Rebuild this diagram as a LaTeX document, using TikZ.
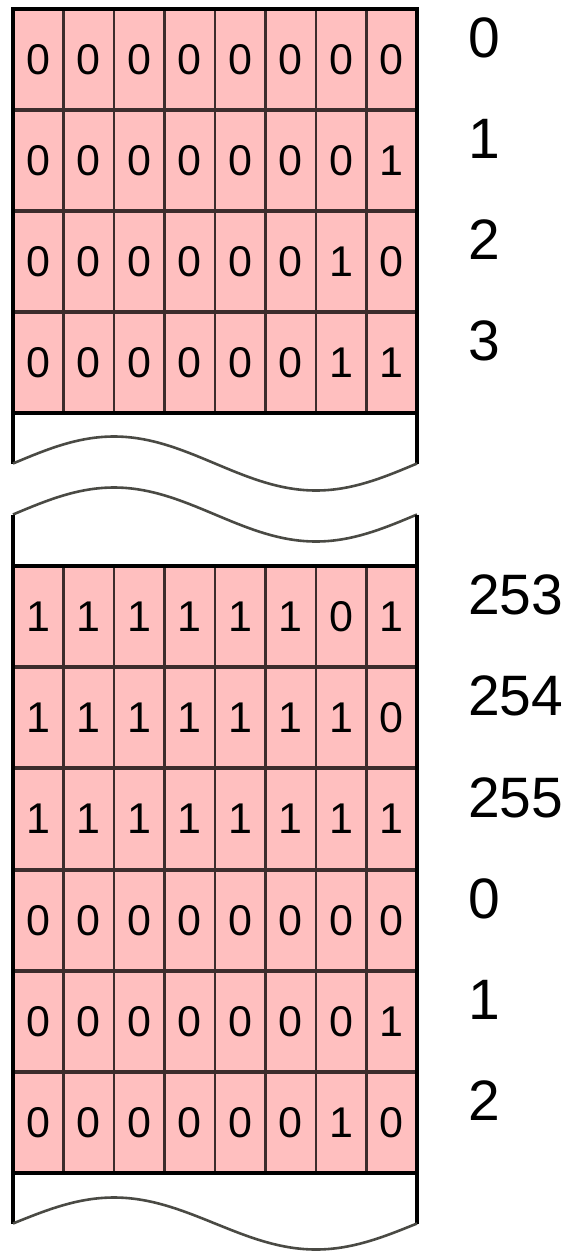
\documentclass[tikz,border=0pt]{standalone}
\usepackage{fontspec}
\setmainfont{Liberation Sans}
\definecolor{cellpink}{HTML}{FFBFBF}
\definecolor{gridline}{HTML}{3C2C2C}
\definecolor{waveline}{HTML}{4A4A44}
\begin{document}
\begin{tikzpicture}[x=1pt,y=-1pt,
  bit/.style={font=\fontsize{43}{43}\selectfont, inner sep=0pt},
  idx/.style={font=\fontsize{57}{57}\selectfont, anchor=west, inner sep=0pt},
  outer/.style={line width=3.6pt, black},
  rowline/.style={line width=4pt, gridline},
  colline/.style={line width=2.8pt, gridline},
  wave/.style={line width=2.6pt, waveline, line join=round}]
\useasboundingbox (0,0) rectangle (573,1251);
\def\L{13}\def\R{417}\def\cw{50.5}
% ---------- upper block ----------
\def\Ut{9}\def\rh{101}
\fill[cellpink] (\L,\Ut) rectangle (\R,413);
\foreach \row/\lab [count=\r from 0] in
  {{0,0,0,0,0,0,0,0}/0,{0,0,0,0,0,0,0,1}/1,{0,0,0,0,0,0,1,0}/2,{0,0,0,0,0,0,1,1}/3}{
  \foreach \b [count=\c from 0] in \row {
    \node[bit] (u-\r-\c) at ({\L+\cw*(\c+0.5)},{\Ut+\rh*(\r+0.5)}) {\b};
  }
  \node[idx] (ul-\r) at (468,{\Ut+\rh*\r+29}) {\lab};
}
\foreach \c in {1,...,7} \draw[colline] ({\L+\cw*\c},\Ut) -- ({\L+\cw*\c},413);
\foreach \r in {1,2,3} \draw[rowline] (\L,{\Ut+\rh*\r}) -- (\R,{\Ut+\rh*\r});
\draw[rowline,black] (\L,413) -- (\R,413);
\draw[outer] (\L,463.5) -- (\L,\Ut) -- (\R,\Ut) -- (\R,463.5);
\draw[wave] plot[domain=0:360, samples=73, smooth] ({\L+1.122222*\x},{463.5-27*sin(\x)});
% ---------- second wave ----------
\draw[wave] plot[domain=0:360, samples=73, smooth] ({\L+1.122222*\x},{514.5-27*sin(\x)});
% ---------- lower block ----------
\def\Lt{566}\def\lrh{101.2}
\fill[cellpink] (\L,\Lt) rectangle (\R,1173);
\foreach \row/\lab [count=\r from 0] in
  {{1,1,1,1,1,1,0,1}/253,{1,1,1,1,1,1,1,0}/254,{1,1,1,1,1,1,1,1}/255,
   {0,0,0,0,0,0,0,0}/0,{0,0,0,0,0,0,0,1}/1,{0,0,0,0,0,0,1,0}/2}{
  \foreach \b [count=\c from 0] in \row {
    \node[bit] (l-\r-\c) at ({\L+\cw*(\c+0.5)},{\Lt+\lrh*(\r+0.5)}) {\b};
  }
  \node[idx] (ll-\r) at (468,{\Lt+\lrh*\r+29}) {\lab};
}
\foreach \c in {1,...,7} \draw[colline] ({\L+\cw*\c},\Lt) -- ({\L+\cw*\c},1173);
\foreach \r in {1,...,5} \draw[rowline] (\L,{\Lt+\lrh*\r}) -- (\R,{\Lt+\lrh*\r});
\draw[rowline,black] (\L,\Lt) -- (\R,\Lt);
\draw[rowline,black] (\L,1173) -- (\R,1173);
\draw[outer] (\L,514.5) -- (\L,1223.5);
\draw[outer] (\R,514.5) -- (\R,1223.5);
\draw[wave] plot[domain=0:360, samples=73, smooth] ({\L+1.122222*\x},{1223.5-26*sin(\x)});
\end{tikzpicture}
\end{document}
